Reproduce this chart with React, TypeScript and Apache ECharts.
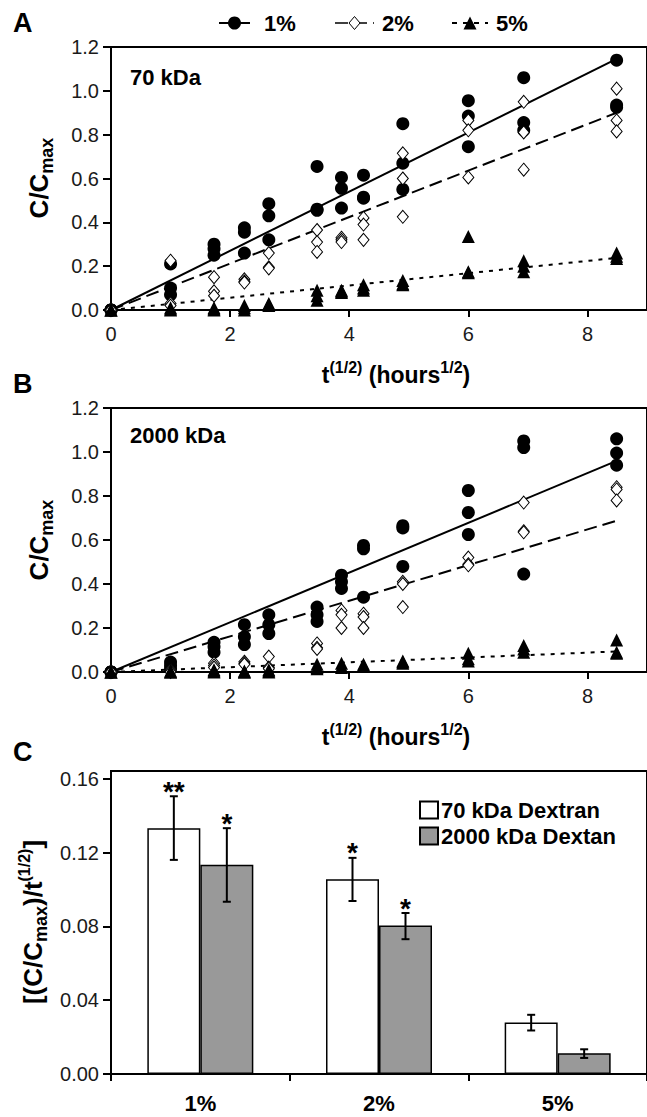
import React, { useEffect, useRef } from "react";
import * as echarts from "echarts";

const F = "'Liberation Sans', Arial, sans-serif";

// sqrt(hours) sampling times
const xTimes = [0, 1, 1.73, 2.24, 2.65, 3.46, 3.87, 4.24, 4.9, 6, 6.93, 8.49];

// Panel A (70 kDa) replicates per time
const a1 = [[0, 0, 0], [0.21, 0.1, 0.07], [0.3, 0.28, 0.25], [0.375, 0.355, 0.26], [0.485, 0.43, 0.32], [0.655, 0.46, 0.455], [0.605, 0.555, 0.465], [0.615, 0.515, 0.51], [0.85, 0.67, 0.55], [0.955, 0.885, 0.745], [1.06, 0.855, 0.82], [1.14, 0.935, 0.925]];
const a2 = [[0, 0, 0], [0.225, 0.03, 0.02], [0.15, 0.085, 0.065], [0.14, 0.13, 0.125], [0.26, 0.195, 0.19], [0.365, 0.31, 0.265], [0.33, 0.32, 0.31], [0.42, 0.39, 0.32], [0.715, 0.6, 0.425], [0.865, 0.82, 0.605], [0.95, 0.81, 0.64], [1.01, 0.865, 0.815]];
const a5 = [[0, 0, 0], [0.01, 0.005, 0], [0.01, 0.005, 0], [0.02, 0.01, 0], [0.03, 0.025, 0.02], [0.09, 0.065, 0.045], [0.09, 0.085, 0.08], [0.115, 0.1, 0.09], [0.135, 0.12, 0.115], [0.335, 0.175, 0.17], [0.225, 0.2, 0.175], [0.26, 0.245, 0.235]];

// Panel B (2000 kDa)
const b1 = [[0, 0, 0], [0.045, 0.03, 0.015], [0.135, 0.115, 0.09], [0.215, 0.16, 0.125], [0.26, 0.215, 0.175], [0.295, 0.26, 0.23], [0.44, 0.41, 0.38], [0.575, 0.56, 0.34], [0.665, 0.655, 0.48], [0.825, 0.725, 0.625], [1.05, 1.02, 0.445], [1.06, 0.995, 0.94]];
const b2 = [[0, 0, 0], [0.01, 0.005, 0], [0.04, 0.03, 0.02], [0.047, 0.04, 0.035], [0.07, 0.02, 0.015], [0.13, 0.11, 0.105], [0.28, 0.26, 0.2], [0.265, 0.25, 0.2], [0.41, 0.4, 0.295], [0.52, 0.49, 0.485], [0.77, 0.64, 0.635], [0.84, 0.83, 0.78]];
const b5 = [[0, 0, 0], [0.005, 0, 0], [0.01, 0.005, 0], [0.005, 0, 0], [0.01, 0.005, 0], [0.035, 0.02, 0.015], [0.04, 0.025, 0.02], [0.035, 0.03, 0.025], [0.05, 0.045, 0.04], [0.085, 0.06, 0.05], [0.12, 0.105, 0.09], [0.145, 0.09, 0.085]];

// fitted slopes (1%, 2%, 5%)
const fitA = [0.135, 0.106, 0.028];
const fitB = [0.113, 0.081, 0.011];

// Panel C
const categories = ["1%", "2%", "5%"];
const dex70 = [0.1333, 0.1056, 0.0279];
const dex70Lo = [0.1161, 0.0938, 0.0236];
const dex70Hi = [0.1506, 0.1172, 0.0321];
const dex2000 = [0.1134, 0.0805, 0.0113];
const dex2000Lo = [0.0934, 0.0731, 0.0087];
const dex2000Hi = [0.1333, 0.0873, 0.0134];
const sig70 = ["**", "*", ""];
const sig2000 = ["*", "*", ""];

const pts = (reps: number[][]) => xTimes.flatMap((x, i) => reps[i].map((v) => [x, v]));
const xEnd = xTimes[xTimes.length - 1];
const fitLine = (s: number) => [[0, 0], [xEnd, s * xEnd]];

const BAR_W = 53;

function buildOption() {
  const axisLine = { show: true, onZero: false, lineStyle: { color: "#000", width: 2 } };
  const tick = { show: true, inside: false, length: 8, lineStyle: { color: "#000", width: 2 } };
  const lbl = { fontSize: 20, color: "#1a1a1a", fontFamily: F };

  const gridCommon = { show: true, borderColor: "#000", borderWidth: 2, backgroundColor: "transparent" };

  const xVal = (gi: number) => ({
    gridIndex: gi, type: "value", min: 0, max: 9, interval: 2,
    axisLine, axisTick: { ...tick, length: 7 }, splitLine: { show: false },
    axisLabel: { ...lbl, margin: 14, showMaxLabel: false },
  });
  const yVal = (gi: number) => ({
    gridIndex: gi, type: "value", min: 0, max: 1.2, interval: 0.2,
    axisLine, axisTick: tick, splitLine: { show: false },
    axisLabel: { ...lbl, margin: 12, formatter: (v: number) => v.toFixed(1) },
  });

  const scat = (name: string, data: number[][], gi: number, kind: number) => {
    const base: any = {
      type: "scatter", name, xAxisIndex: gi, yAxisIndex: gi, data, clip: false,
      z: 3 + kind,
    };
    if (kind === 0) { base.symbol = "circle"; base.symbolSize = 13; base.itemStyle = { color: "#000", opacity: 1 }; }
    if (kind === 1) { base.symbol = "diamond"; base.symbolSize = [11, 13]; base.itemStyle = { color: "#fff", borderColor: "#000", borderWidth: 1, opacity: 1 }; }
    if (kind === 2) { base.symbol = "triangle"; base.symbolSize = [13, 13]; base.itemStyle = { color: "#000", opacity: 1 }; }
    return base;
  };
  const dashes: any[] = ["solid", [13, 6], [4, 6]];
  const lineS = (s: number, gi: number, k: number) => ({
    type: "line", xAxisIndex: gi, yAxisIndex: gi, data: fitLine(s), showSymbol: false, symbol: "none",
    lineStyle: { color: "#000", width: 2, type: dashes[k] }, z: 2, silent: true,
  });

  const errSeries = (lo: number[], hi: number[], sig: string[], off: number) => ({
    type: "custom", xAxisIndex: 2, yAxisIndex: 2, z: 10, clip: false,
    data: categories.map((c, i) => [i, lo[i], hi[i]]),
    renderItem: (params: any, api: any) => {
      const i = api.value(0);
      const top = api.coord([i, api.value(2)]);
      const bot = api.coord([i, api.value(1)]);
      const x = top[0] + off;
      const st = { stroke: "#000", lineWidth: 2 };
      const children: any[] = [
        { type: "line", shape: { x1: x, y1: top[1], x2: x, y2: bot[1] }, style: st },
        { type: "line", shape: { x1: x - 4, y1: top[1], x2: x + 4, y2: top[1] }, style: st },
        { type: "line", shape: { x1: x - 4, y1: bot[1], x2: x + 4, y2: bot[1] }, style: st },
      ];
      const s = sig[params.dataIndex];
      if (s) {
        children.push({
          type: "text", x, y: top[1] - 5,
          style: { text: s, fontSize: 28, fontWeight: "bold", fontFamily: F, fill: "#000", align: "center", verticalAlign: "middle" },
        });
      }
      return { type: "group", children };
    },
  });

  const sup = { fontSize: 16, fontWeight: "bold", fontFamily: F, fill: "#000", verticalAlign: "top", lineHeight: 16 };
  const sub = { fontSize: 18, fontWeight: "bold", fontFamily: F, fill: "#000", verticalAlign: "bottom", lineHeight: 18 };
  const mainT = (size: number) => ({ fontSize: size, fontWeight: "bold", fontFamily: F, fill: "#000", lineHeight: size + 8 });

  const txt = (x: number, y: number, text: string, size: number, align = "left") => ({
    type: "text", x, y,
    style: { text, fontSize: size, fontWeight: "bold", fontFamily: F, fill: "#000", align, textAlign: align, verticalAlign: "middle", textVerticalAlign: "middle" },
  });
  const richTxt = (x: number, y: number, text: string, size: number, rot: number) => ({
    type: "text", x, y, rotation: rot,
    style: {
      text, align: "center", verticalAlign: "middle", textAlign: "center", textVerticalAlign: "middle",
      fontSize: size, fontWeight: "bold", fontFamily: F, fill: "#000",
      rich: { m: mainT(size), sup, sub },
    },
  });

  const xTitle = "{m|t}{sup|(1/2)}{m| (hours}{sup|1/2}{m|)}";
  const yTitle = "{m|C/C}{sub|max}";
  const cTitle = "{m|[(C/C}{sub|max}{m|)/t}{sup|(1/2)}{m|]}";

  const graphic: any[] = [
    txt(13, 23, "A", 27), txt(13, 384, "B", 27), txt(13, 752, "C", 27),
    // top legend
    { type: "line", shape: { x1: 219, y1: 23, x2: 250, y2: 23 }, style: { stroke: "#000", lineWidth: 2 } },
    { type: "circle", shape: { cx: 234.5, cy: 23, r: 6.5 }, style: { fill: "#000" } },
    txt(264, 23, "1%", 22),
    { type: "line", shape: { x1: 335, y1: 23, x2: 374, y2: 23 }, style: { stroke: "#000", lineWidth: 1.5, lineDash: [13, 6] } },
    { type: "polygon", shape: { points: [[354.5, 16.5], [360, 23], [354.5, 29.5], [349, 23]] }, style: { fill: "#fff", stroke: "#000", lineWidth: 1 } },
    txt(382, 23, "2%", 22),
    { type: "line", shape: { x1: 452, y1: 23, x2: 488, y2: 23 }, style: { stroke: "#000", lineWidth: 2, lineDash: [5, 6] } },
    { type: "polygon", shape: { points: [[470, 16.5], [476.5, 29.5], [463.5, 29.5]] }, style: { fill: "#000" } },
    txt(496, 23, "5%", 22),
    // panel annotations
    txt(130, 77, "70 kDa", 22), txt(130, 435, "2000 kDa", 22),
    richTxt(396, 375, xTitle, 23, 0), richTxt(396, 737, xTitle, 23, 0),
    richTxt(39, 178, yTitle, 26, Math.PI / 2), richTxt(39, 540, yTitle, 26, Math.PI / 2),
    richTxt(33, 922, cTitle, 26, Math.PI / 2),
  ];

  return {
    animation: false,
    backgroundColor: "#fff",
    textStyle: { fontFamily: F },
    grid: [
      { ...gridCommon, left: 111, top: 47, width: 545, height: 263 },
      { ...gridCommon, left: 111, top: 408, width: 545, height: 264 },
      { ...gridCommon, left: 111, top: 771, width: 550, height: 303 },
    ],
    xAxis: [
      xVal(0), xVal(1),
      {
        gridIndex: 2, type: "category", data: categories,
        axisLine, axisTick: { ...tick, length: 7, alignWithLabel: false },
        axisLabel: { fontSize: 22, fontWeight: "bold", color: "#000", fontFamily: F, margin: 18 },
      },
    ],
    yAxis: [
      yVal(0), yVal(1),
      {
        gridIndex: 2, type: "value", min: 0, max: 0.1643, interval: 0.04,
        axisLine, axisTick: tick, splitLine: { show: false },
        axisLabel: { ...lbl, margin: 12, formatter: (v: number) => v.toFixed(2), showMaxLabel: false },
      },
    ],
    legend: {
      data: ["70 kDa Dextran", "2000 kDa Dextan"], orient: "vertical", left: 414, top: 794,
      itemWidth: 18, itemHeight: 17, itemGap: 4, icon: "rect", selectedMode: false,
      textStyle: { fontSize: 22, fontWeight: "bold", color: "#000", fontFamily: F, padding: [0, 0, 0, -2] },
    },
    series: [
      lineS(fitA[0], 0, 0), lineS(fitA[1], 0, 1), lineS(fitA[2], 0, 2),
      scat("1%", pts(a1), 0, 0), scat("2%", pts(a2), 0, 1), scat("5%", pts(a5), 0, 2),
      lineS(fitB[0], 1, 0), lineS(fitB[1], 1, 1), lineS(fitB[2], 1, 2),
      scat("1% B", pts(b1), 1, 0), scat("2% B", pts(b2), 1, 1), scat("5% B", pts(b5), 1, 2),
      {
        type: "bar", name: "70 kDa Dextran", xAxisIndex: 2, yAxisIndex: 2, data: dex70,
        barWidth: BAR_W, barGap: "0%", itemStyle: { color: "#fff", borderColor: "#000", borderWidth: 1.5 },
      },
      {
        type: "bar", name: "2000 kDa Dextan", xAxisIndex: 2, yAxisIndex: 2, data: dex2000,
        barWidth: BAR_W, barGap: "0%", itemStyle: { color: "#999999", borderColor: "#000", borderWidth: 1.5 },
      },
      errSeries(dex70Lo, dex70Hi, sig70, -BAR_W / 2),
      errSeries(dex2000Lo, dex2000Hi, sig2000, BAR_W / 2),
    ],
    graphic,
  };
}

export default function App() {
  const ref = useRef<HTMLDivElement>(null);
  useEffect(() => {
    if (!ref.current) return;
    const chart = echarts.init(ref.current, null, { renderer: "svg" });
    chart.setOption(buildOption() as any);
    return () => chart.dispose();
  }, []);
  return (
    <div
      ref={ref}
      style={{ position: "fixed", left: 0, top: 0, width: 647, height: 1117, background: "#fff" }}
    />
  );
}
